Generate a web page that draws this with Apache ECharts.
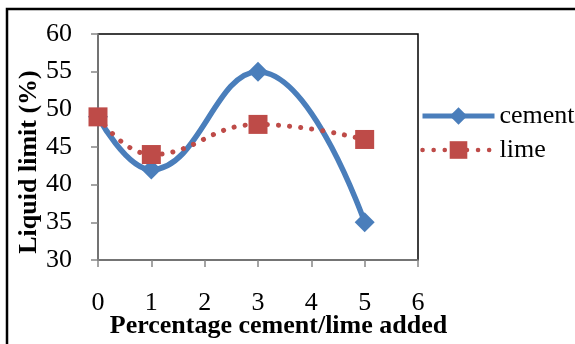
<!DOCTYPE html>
<html><head><meta charset="utf-8">
<script src="https://cdn.jsdelivr.net/npm/echarts@6/dist/echarts.min.js"></script>
<style>html,body{margin:0;padding:0;background:#fff}#c{width:575px;height:344px}</style>
</head><body><div id="c"></div>
<script>
const xValues = [0, 1, 3, 5];
const cement = [49, 42, 55, 35];
const lime = [49, 44, 48, 46];
const seriesNames = ['cement', 'lime'];
const xTicks = [0, 1, 2, 3, 4, 5, 6];
const yTicks = [30, 35, 40, 45, 50, 55, 60];

const font = 'Liberation Serif';
const chart = echarts.init(document.getElementById('c'), null, {renderer: 'canvas'});
chart.setOption({
  animation: false,
  backgroundColor: '#fff',
  grid: {left: 98, top: 34, width: 320, height: 226, containLabel: false, outerBoundsMode: 'none', show: true, borderColor: '#000', borderWidth: 1.5, backgroundColor: 'transparent'},
  graphic: [{type: 'rect', shape: {x: 7, y: 9, width: 600, height: 400}, style: {fill: 'none', stroke: '#000', lineWidth: 2.5}, silent: true}],
  legend: {
    orient: 'vertical', left: 415, top: 98, itemGap: 8, itemWidth: 72, itemHeight: 22,
    textStyle: {fontFamily: font, fontSize: 26, color: '#000'},
    data: [
      {name: seriesNames[0], lineStyle: {width: 5}},
      {name: seriesNames[1], lineStyle: {width: 4.5}}
    ]
  },
  xAxis: {
    type: 'value', min: xTicks[0], max: xTicks[xTicks.length - 1], interval: 1,
    name: 'Percentage cement/lime added', nameLocation: 'middle', nameGap: 53, nameMoveOverlap: false,
    nameTextStyle: {fontFamily: font, fontSize: 26, fontWeight: 'bold', color: '#000', padding: [0, 0, 0, 41]},
    axisLine: {onZero: false, lineStyle: {color: '#868686', width: 1.5}},
    axisTick: {show: true, length: 7, lineStyle: {color: '#868686', width: 1.5}},
    axisLabel: {margin: 30, fontFamily: font, fontSize: 26, color: '#000', hideOverlap: false},
    splitLine: {show: false}
  },
  yAxis: {
    type: 'value', min: yTicks[0], max: yTicks[yTicks.length - 1], interval: 5,
    name: 'Liquid limit (%)', nameLocation: 'middle', nameGap: 56, nameRotate: 90, nameMoveOverlap: false,
    nameTextStyle: {fontFamily: font, fontSize: 26, fontWeight: 'bold', color: '#000', padding: [0, 30, 0, 0]},
    axisLine: {show: true, lineStyle: {color: '#868686', width: 1.5}},
    axisTick: {show: true, length: 7, lineStyle: {color: '#868686', width: 1.5}},
    axisLabel: {margin: 26, fontFamily: font, fontSize: 26, color: '#000'},
    splitLine: {show: false}
  },
  series: [
    {name: seriesNames[0], type: 'line', smooth: 0.45, data: xValues.map((x, i) => [x, cement[i]]),
     symbol: 'diamond', symbolSize: 20, itemStyle: {color: '#4a7ebb'},
     lineStyle: {color: '#4a7ebb', width: 5.5}},
    {name: seriesNames[1], type: 'line', smooth: 0.45, data: xValues.map((x, i) => [x, lime[i]]),
     symbol: 'rect', symbolSize: 19, itemStyle: {color: '#be4b48'},
     lineStyle: {color: '#be4b48', width: 5, type: [0.1, 11], cap: 'round'}}
  ]
});
</script></body></html>
